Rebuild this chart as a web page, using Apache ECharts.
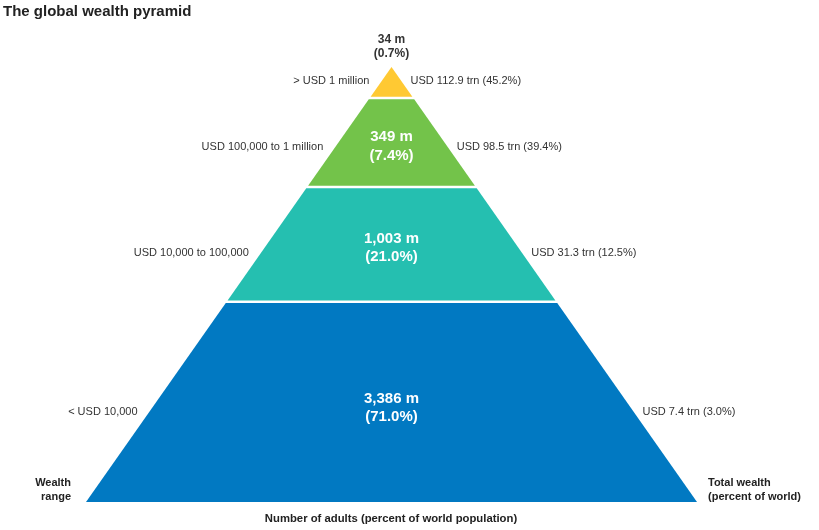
<!DOCTYPE html>
<html>
<head>
<meta charset="utf-8">
<script src="https://cdn.jsdelivr.net/npm/echarts@6/dist/echarts.min.js"></script>
<style>
  html, body { margin: 0; padding: 0; background: #fff; }
  #chart { width: 819px; height: 530px; }
</style>
</head>
<body>
<div id="chart"></div>
<script>
const wealthRanges = ['> USD 1 million', 'USD 100,000 to 1 million', 'USD 10,000 to 100,000', '< USD 10,000'];
const adultsMillions = [34, 349, 1003, 3386];
const adultsShare = [0.7, 7.4, 21.0, 71.0];
const wealthTrn = [112.9, 98.5, 31.3, 7.4];
const wealthShare = [45.2, 39.4, 12.5, 3.0];

const tierColors = ['#ffc933', '#73c34a', '#25bfb0', '#0179c2'];

// pyramid layout, depth 0 = apex, 1 = base
const tierBreaks = [0, 0.0713, 0.276, 0.5395, 1];
const centerLabelDepth = [-0.047, 0.182, 0.416, 0.784];
const sideLabelDepth = [0.033, 0.184, 0.428, 0.792];
const halfGap = 0.003;

const font = '"Liberation Sans", Arial, sans-serif';
const chart = echarts.init(document.getElementById('chart'));

const renderTier = (params, api) => {
  const i = api.value(0);
  const d0 = tierBreaks[i] + (i > 0 ? halfGap : 0);
  const d1 = tierBreaks[i + 1] - (i < tierBreaks.length - 2 ? halfGap : 0);
  const pts = [
    api.coord([-d0, d0]), api.coord([d0, d0]),
    api.coord([d1, d1]), api.coord([-d1, d1])
  ];
  const top = i === 0;
  const c = api.coord([0, centerLabelDepth[i]]);
  const ds = sideLabelDepth[i];
  const l = api.coord([-ds, ds]);
  const r = api.coord([ds, ds]);
  const adults = adultsMillions[i].toLocaleString('en-US') + ' m\n(' + adultsShare[i].toFixed(1) + '%)';
  return {
    type: 'group',
    children: [
      { type: 'polygon', shape: { points: pts }, style: { fill: tierColors[i] } },
      {
        type: 'text',
        style: {
          text: adults, x: c[0], y: c[1], align: 'center', verticalAlign: 'middle',
          fill: top ? '#333' : '#fff', fontFamily: font, fontWeight: 'bold',
          fontSize: top ? 12 : 15, lineHeight: top ? 13.5 : 18.5
        }
      },
      {
        type: 'text',
        style: {
          text: wealthRanges[i], x: l[0] - 12, y: l[1], align: 'right', verticalAlign: 'middle',
          fill: '#333', fontFamily: font, fontSize: 11
        }
      },
      {
        type: 'text',
        style: {
          text: 'USD ' + wealthTrn[i].toFixed(1) + ' trn (' + wealthShare[i].toFixed(1) + '%)',
          x: r[0] + 9, y: r[1], align: 'left', verticalAlign: 'middle',
          fill: '#333', fontFamily: font, fontSize: 11
        }
      }
    ]
  };
};

chart.setOption({
  animation: false,
  title: {
    text: 'The global wealth pyramid',
    left: 3,
    top: 4,
    padding: 0,
    textStyle: { fontFamily: font, fontSize: 15, fontWeight: 'bold', color: '#222' }
  },
  grid: { left: 86, right: 122, top: 67, bottom: 28 },
  xAxis: { type: 'value', min: -1, max: 1, show: false },
  yAxis: { type: 'value', min: 0, max: 1, inverse: true, show: false },
  series: [{
    type: 'custom',
    renderItem: renderTier,
    data: wealthRanges.map((w, i) => [i]),
    silent: true
  }],
  graphic: [
    {
      type: 'text', x: 71, y: 476,
      style: { text: 'Wealth\nrange', align: 'right', fill: '#222', fontFamily: font, fontSize: 11, fontWeight: 'bold', lineHeight: 14 }
    },
    {
      type: 'text', x: 708, y: 476,
      style: { text: 'Total wealth\n(percent of world)', fill: '#222', fontFamily: font, fontSize: 11, fontWeight: 'bold', lineHeight: 14 }
    },
    {
      type: 'text', x: 391, y: 513,
      style: { text: 'Number of adults (percent of world population)', align: 'center', fill: '#222', fontFamily: font, fontSize: 11.3, fontWeight: 'bold' }
    }
  ]
});
</script>
</body>
</html>
